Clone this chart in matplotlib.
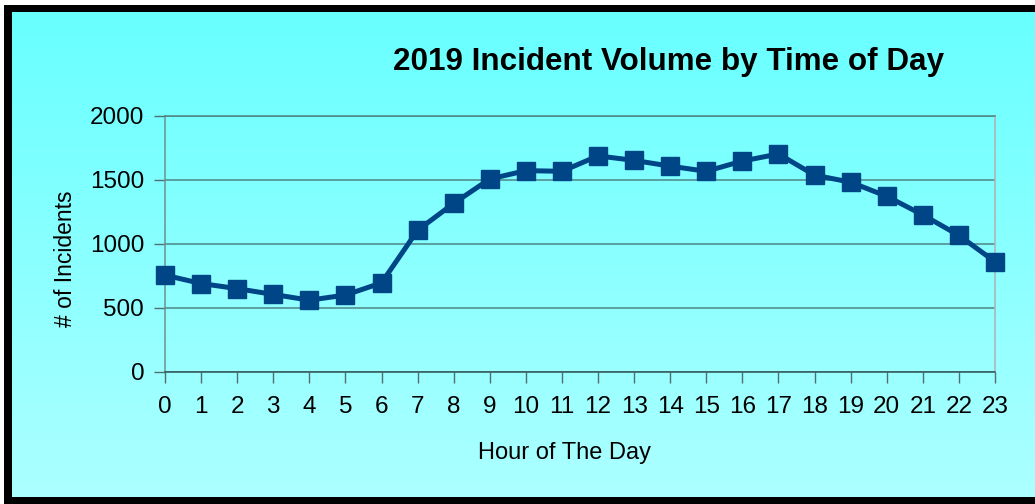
import numpy as np
import matplotlib
matplotlib.use('Agg')
import matplotlib.pyplot as plt
from matplotlib.patches import Rectangle

hours = list(range(24))
incidents = [755, 690, 650, 605, 560, 600, 695, 1105, 1315, 1505, 1570, 1565,
             1685, 1650, 1605, 1565, 1645, 1700, 1535, 1480, 1370, 1225, 1065, 860]
yticks = [0, 500, 1000, 1500, 2000]
title = "2019 Incident Volume by Time of Day"
xlabel = "Hour of The Day"
ylabel = "# of Incidents"

plt.rcParams['font.family'] = ['Liberation Sans', 'DejaVu Sans']

W, H = 1035, 504
fig = plt.figure(figsize=(W / 100, H / 100), dpi=100)
fig.patch.set_facecolor('white')

# background frame + gradient
bg = fig.add_axes([0, 0, 1, 1], zorder=0)
bg.add_patch(Rectangle((4, 5), W + 10, H + 10, facecolor='black', edgecolor='none', zorder=1))
grad = np.linspace(0, 1, 256).reshape(-1, 1, 1)
top_c = np.array([104, 255, 255]) / 255
bot_c = np.array([172, 255, 255]) / 255
img = top_c + (bot_c - top_c) * grad
bg.imshow(img, extent=[11.5, W, 497.5, 12.5], aspect='auto', interpolation='bilinear', zorder=2)
bg.set_xlim(0, W)
bg.set_ylim(H, 0)
bg.axis('off')

# main axes
ax = fig.add_axes([165 / W, 1 - 372 / H, (995 - 165) / W, (372 - 115.5) / H], zorder=1)
ax.patch.set_alpha(0)
ax.plot(hours, incidents, color='#004586', lw=3.6, marker='s', ms=13.5,
        mec='#004586', mfc='#004586', clip_on=False, zorder=3)
ax.set_xlim(0, 23)
ax.set_ylim(0, 2000)
ax.set_xticks(hours)
ax.set_xticklabels([str(h) for h in hours])
ax.set_yticks(yticks)
ax.set_yticklabels([str(v) for v in yticks])
ax.grid(axis='y', color='#4f8585', lw=1.1)
ax.set_axisbelow(True)
ax.tick_params(direction='out', length=8, width=1, color='#4f7070', labelsize=17.5)
ax.tick_params(axis='y', pad=7)
ax.tick_params(axis='x', pad=9)
ax.spines['top'].set_color('#4f8585')
ax.spines['right'].set_color('#b0b0b0')
ax.spines['left'].set_color('#6f8f8f')
ax.spines['bottom'].set_color('#2f5555')
for s in ax.spines.values():
    s.set_linewidth(1.1)

# texts
fig.text(668.5 / W, 1 - 70 / H, title, ha='center', va='baseline', fontsize=22.6,
         fontweight='bold', color='black')
fig.text(564 / W, 1 - 459 / H, xlabel, ha='center', va='baseline', fontsize=17, color='black')
fig.text(72 / W, 1 - 259 / H, ylabel, ha='center', va='baseline', rotation=90,
         rotation_mode='anchor', fontsize=16.5, color='black')

fig.savefig('out.png', dpi=100)
